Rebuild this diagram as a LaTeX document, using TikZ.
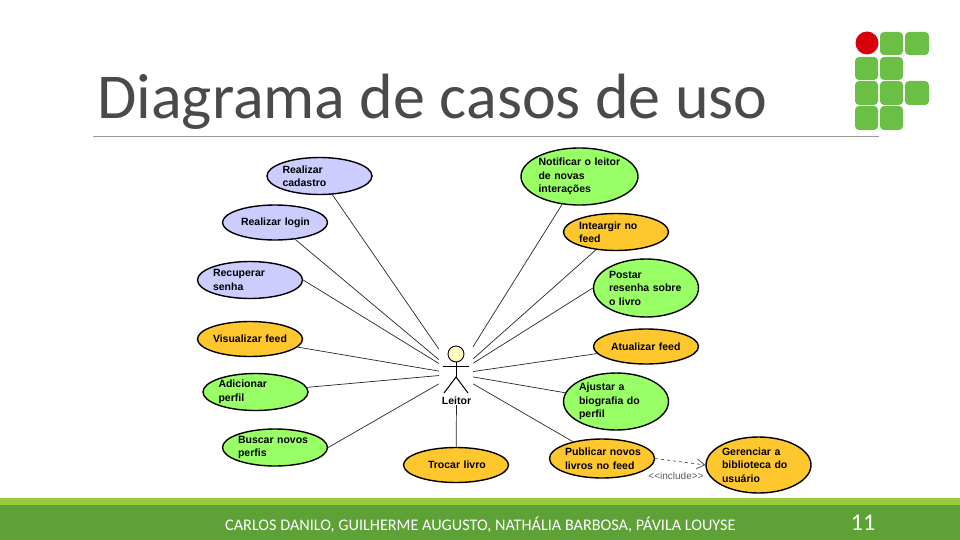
\documentclass[tikz,border=0pt]{standalone}
\usepackage{fontspec}
\setmainfont{Liberation Sans}
\newfontfamily\slidefont{Carlito}
\usetikzlibrary{arrows.meta,shapes.geometric}
\definecolor{ucblue}{HTML}{CCCCFF}
\definecolor{ucorange}{HTML}{FFC72E}
\definecolor{ucgreen}{HTML}{99FF66}
\definecolor{logogreen}{HTML}{6CBF45}
\definecolor{logored}{HTML}{D9000D}
\definecolor{bandlight}{HTML}{97CB3D}
\definecolor{banddark}{HTML}{5EA136}
\definecolor{titlegray}{HTML}{4A4A4A}
\tikzset{
    usecase/.style={ellipse, draw=black, line width=1.4pt, inner sep=0pt, align=left,
        font=\bfseries\fontsize{10.5}{13.5}\selectfont, minimum width=105pt, minimum height=37pt},
    assoc/.style={draw=black!85, line width=0.7pt},
    logobox/.style={fill=logogreen, rounded corners=4pt}
}

\begin{document}
\begin{tikzpicture}[x=1pt, y=-1pt]

    \useasboundingbox (0,0) rectangle (960,540);

    \fill[bandlight] (0,498) rectangle (960,505);
    \fill[banddark] (0,505) rectangle (960,540);
    \draw[gray!80, line width=0.7pt] (93,136.5) -- (879,136.5);

    \node[titlegray, anchor=west, inner sep=0pt, font=\slidefont\fontsize{64}{68}\selectfont] (title) at (97,102) {Diagrama de casos de uso};
    \node[white, anchor=west, inner sep=0pt, font=\slidefont\fontsize{16.2}{19}\selectfont] (authors) at (225,525) {CARLOS DANILO, GUILHERME AUGUSTO, NATHÁLIA BARBOSA, PÁVILA LOUYSE};
    \node[white, inner sep=0pt, font=\slidefont\fontsize{24}{28}\selectfont] (pagenum) at (863,523) {11};

    \fill[logored] (867,43) circle (11.5);
    \fill[logobox] (880,32) rectangle (903,55);
    \fill[logobox] (905,32) rectangle (929,55);
    \fill[logobox] (855,57) rectangle (878,80);
    \fill[logobox] (880,57) rectangle (903,80);
    \fill[logobox] (855,81) rectangle (878,105);
    \fill[logobox] (880,81) rectangle (903,105);
    \fill[logobox] (905,81) rectangle (929,105);
    \fill[logobox] (855,106) rectangle (878,130);
    \fill[logobox] (880,106) rectangle (903,130);

    \node[usecase, fill=ucblue, text width=74pt] (cadastro) at (319.5,176) {Realizar\\cadastro};
    \node[usecase, fill=ucblue, text width=68pt, minimum height=35pt] (login) at (275,222.5) {\mbox{Realizar login}};
    \node[usecase, fill=ucblue, text width=74pt] (senha) at (250,280) {Recuperar\\senha};
    \node[usecase, fill=ucorange, text width=74pt, minimum height=35pt] (visualizar) at (250,339) {\mbox{Visualizar feed}};
    \node[usecase, fill=ucgreen, text width=74pt] (adicionar) at (255.5,392) {Adicionar\\perfil};
    \node[usecase, fill=ucgreen, text width=74pt] (buscar) at (275,447.5) {\mbox{Buscar novos}\\perfis};
    \node[usecase, fill=ucorange, text width=56pt, minimum height=35pt] (trocar) at (456,465) {\mbox{Trocar livro}};

    \node[usecase, fill=ucgreen, text width=82pt, minimum width=117pt, minimum height=57pt] (notificar) at (579.5,176.5) {\mbox{Notificar o leitor}\\de novas\\interações};
    \node[usecase, fill=ucorange, text width=74pt] (interagir) at (616,232) {Inteargir no\\feed};
    \node[usecase, fill=ucgreen, text width=74pt, minimum height=58pt] (postar) at (646,288) {Postar\\\mbox{resenha sobre}\\o livro};
    \node[usecase, fill=ucorange, text width=70pt, minimum height=35pt] (atualizar) at (646,346.5) {\mbox{Atualizar feed}};
    \node[usecase, fill=ucgreen, text width=74pt, minimum height=57pt] (ajustar) at (616,401.5) {Ajustar a\\\mbox{biografia do}\\perfil};
    \node[usecase, fill=ucorange, text width=74pt, minimum height=39pt] (publicar) at (602,458.5) {\mbox{Publicar novos}\\\mbox{livros no feed}};
    \node[usecase, fill=ucorange, text width=73pt, minimum height=56pt] (gerenciar) at (758.5,465) {Gerenciar a\\\mbox{biblioteca do}\\usuário};

    \node[minimum width=34pt, minimum height=54pt, inner sep=0pt] (leitor) at (456,374) {};
    \node[inner sep=0pt, font=\bfseries\fontsize{10.5}{13.5}\selectfont] (leitorlabel) at (456.5,401) {Leitor};

    \draw[fill=yellow!25, line width=0.9pt] (456,354) circle (8);
    \draw[line width=1pt] (443,366) -- (469,366);
    \draw[line width=1pt] (456,362) -- (456,377);
    \draw[line width=1pt] (444,393) -- (456,377) -- (468,393);

    \draw[assoc] (cadastro) -- (leitor);
    \draw[assoc] (login) -- (leitor);
    \draw[assoc] (senha.east) -- (leitor);
    \draw[assoc] (visualizar) -- (leitor);
    \draw[assoc] (adicionar) -- (leitor);
    \draw[assoc] (buscar.east) -- (leitor);
    \draw[assoc] (notificar) -- (leitor);
    \draw[assoc] (interagir) -- (leitor);
    \draw[assoc] (postar.west) -- (leitor);
    \draw[assoc] (atualizar) -- (leitor);
    \draw[assoc] (ajustar) -- (leitor);
    \draw[assoc] (publicar) -- (leitor);
    \draw[assoc] (leitorlabel) -- (trocar);

    \draw[black!70, dashed, line width=0.7pt, -{Straight Barb[length=8pt,width=10pt]}] (publicar.east) -- (gerenciar.west);
    \node[gray!70!black, inner sep=0pt, font=\fontsize{10}{12}\selectfont] (includelabel) at (676,476) {<{}<include>{}>};

\end{tikzpicture}
\end{document}
